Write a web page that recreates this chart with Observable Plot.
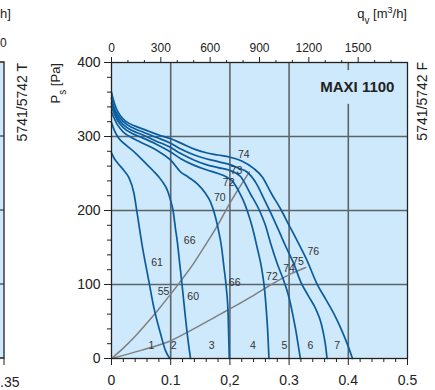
<!DOCTYPE html>
<html><head><meta charset="utf-8">
<script src="https://cdn.jsdelivr.net/npm/d3@7"></script>
<script src="https://cdn.jsdelivr.net/npm/@observablehq/plot@0.6"></script>
<style>
body{margin:0;background:#fff;}
#chart{width:435px;height:390px;overflow:hidden;}
svg{font-family:"Liberation Sans",Arial,sans-serif;}
</style></head><body><div id="chart"></div>
<script>
// ---- axis ticks & labels ----
const bottomTicks = [0, 0.1, 0.2, 0.3, 0.4, 0.5];
const bottomTickLabels = ["0", "0.1", "0,2", "0.3", "0.4", "0.5"];
const bottomMinor = [0.02,0.04,0.06,0.08,0.12,0.14,0.16,0.18,0.22,0.24,0.26,0.28,0.32,0.34,0.36,0.38,0.42,0.44,0.46,0.48];
const leftTicks = [0, 100, 200, 300, 400];
const leftMinor = [20,40,60,80,120,140,160,180,220,240,260,280,320,340,360,380];
const qTicks = [0, 300, 600, 900, 1200, 1500];          // m3/h
const qMinor = [100,200,400,500,700,800,1000,1100,1300,1400,1600,1700];
const gridX = [0.1, 0.2, 0.3, 0.4];
const gridY = [100, 200, 300];

// ---- fan curves (qv m3/s, Ps Pa) ----
const fan1 = [[0,278],[0.005,270],[0.0096,265],[0.021,254],[0.029,245],[0.038,223],[0.043,198],[0.052,152],[0.063,105],[0.0715,69],[0.083,33],[0.091,11],[0.0985,0]];
const fan2 = [[0,319],[0.005,308],[0.012,298],[0.025,288],[0.04,278],[0.055,266],[0.07,254],[0.085,240],[0.095,226],[0.1,213],[0.104,200],[0.108,176],[0.111,159],[0.115,130],[0.119,101],[0.123,70],[0.128,33],[0.1335,0]];
const fan3 = [[0,333],[0.01,316],[0.02,306],[0.035,298],[0.05,292],[0.075,282],[0.1,268],[0.117,252],[0.13,245],[0.145,236],[0.158,224],[0.167,212],[0.175,193],[0.18,176],[0.186,150],[0.19,123],[0.194,95],[0.197,60],[0.198,30],[0.199,0]];
const fan4 = [[0,340],[0.01,322],[0.02,312],[0.035,304],[0.05,299],[0.075,290],[0.1,279],[0.117,270],[0.14,261],[0.16,255],[0.18,250],[0.195,245],[0.206,238],[0.215,226],[0.223,213],[0.23,198],[0.238,177],[0.246,150],[0.254,120],[0.259,90],[0.262,60],[0.264,35],[0.266,0]];
const fan5 = [[0,345],[0.01,326],[0.02,316],[0.035,308],[0.05,303],[0.075,294],[0.1,285],[0.117,277],[0.14,268],[0.16,262],[0.18,258],[0.2,254],[0.218,246],[0.235,222],[0.25,200],[0.26,180],[0.269,155],[0.28,128],[0.291,105],[0.3,82],[0.306,60],[0.312,35],[0.316,15],[0.319,0]];
const fan6 = [[0,352],[0.004,340],[0.01,330],[0.02,320],[0.035,312],[0.05,307],[0.075,299],[0.1,291],[0.117,283],[0.14,275],[0.16,270],[0.18,266],[0.2,262],[0.215,257],[0.229,252],[0.245,236],[0.258,215],[0.27,195],[0.283,172],[0.294,152],[0.307,130],[0.32,103],[0.333,84],[0.345,67],[0.354,48],[0.359,30],[0.362,15],[0.364,0]];
const fan7 = [[0,360],[0.003,350],[0.008,338],[0.015,328],[0.025,320],[0.04,314],[0.06,308],[0.08,302],[0.1,297],[0.12,290],[0.14,283],[0.16,278],[0.18,275],[0.2,272],[0.22,267],[0.24,257],[0.255,245],[0.27,223],[0.285,203],[0.3,180],[0.315,157],[0.33,133],[0.347,101],[0.362,80],[0.376,60],[0.39,36],[0.4,16],[0.407,0]];

// ---- system curves ----
const sysUpper = [[0,0],[0.02,14],[0.04,30],[0.06,48],[0.08,67],[0.1,87],[0.12,108],[0.14,130],[0.16,155],[0.18,181],[0.2,210],[0.22,236],[0.233,252]];
const sysLower = [[0,0],[0.05,11],[0.1,24],[0.134,38],[0.184,60],[0.2,67],[0.235,83],[0.27,100],[0.302,114],[0.328,123]];

// ---- labels ----
const soundUpper = [[0.077,129,"61"],[0.088,91,"55"],[0.132,159,"66"],[0.138,84,"60"],[0.183,217,"70"],[0.198,237,"72"],[0.211,254,"73"],[0.2235,276,"74"]];
const soundLower = [[0.208,103,"66"],[0.271,111,"72"],[0.3,121,"74"],[0.315,131,"75"],[0.341,144,"76"]];
const speedLabels = [[0.0676,"1"],[0.105,"2"],[0.169,"3"],[0.239,"4"],[0.292,"5"],[0.336,"6"],[0.381,"7"]];
const modelName = "MAXI 1100";
const neighbourTexts = ["h]", "0", ".35", "5741/5742 T"];

const bg = "#cde9fb";
const blue = "#0b5c9e";
const gridC = "#5d6469";
const sysC = "#808080";

const fans = [fan1, fan2, fan3, fan4, fan5, fan6, fan7];
const fanRows = fans.flatMap((f, i) => f.map(([x, y]) => ({x, y, k: i})));
const sysRows = [sysUpper, sysLower].flatMap((f, i) => f.map(([x, y]) => ({x, y, k: i})));
const toQ = q => q / 3600;

const chart = Plot.plot({
  width: 435, height: 390,
  marginLeft: 111, marginRight: 28, marginTop: 62, marginBottom: 32,
  x: {domain: [0, 0.5]},
  y: {domain: [0, 400]},
  style: {fontFamily: "Liberation Sans, Arial, sans-serif", fontSize: "14px", color: "#222", background: "transparent", overflow: "visible"},
  marks: [
    Plot.frame({fill: bg, stroke: null}),
    Plot.ruleX(gridX, {stroke: gridC, strokeWidth: 1.6}),
    Plot.ruleY(gridY, {stroke: gridC, strokeWidth: 1.6}),
    Plot.line(sysRows, {x: "x", y: "y", z: "k", stroke: sysC, strokeWidth: 1.5, curve: "monotone-x"}),
    Plot.line(fanRows, {x: "x", y: "y", z: "k", stroke: blue, strokeWidth: 1.7, curve: "monotone-x"}),
    Plot.text(soundUpper, {x: d => d[0], y: d => d[1], text: d => d[2], fontSize: 10.5, fill: "#333"}),
    Plot.text(soundLower, {x: d => d[0], y: d => d[1], text: d => d[2], fontSize: 10.5, fill: "#333"}),
    Plot.text(speedLabels, {x: d => d[0], y: 17.5, text: d => d[1], fontSize: 10.5, fill: "#333"}),
    Plot.text([modelName], {x: 0.478, y: 366, text: d => d, textAnchor: "end", fontWeight: "bold", fontSize: 15, fill: "#222", stroke: bg, strokeWidth: 24}),
    Plot.frame({stroke: "#222", strokeWidth: 1.3}),
    Plot.axisX(bottomTicks, {tickSize: 7, tickPadding: 10, fontSize: 14, label: null, tickFormat: d => bottomTickLabels[bottomTicks.indexOf(d)], stroke: "#222"}),
    Plot.axisX(bottomMinor, {tickSize: 4, label: null, tickFormat: () => "", stroke: "#222"}),
    Plot.axisY(leftTicks, {tickSize: 7, tickPadding: 4, fontSize: 14, label: null, stroke: "#222"}),
    Plot.axisY(leftMinor, {tickSize: 4, label: null, tickFormat: () => "", stroke: "#222"}),
    Plot.axisX(qTicks.map(toQ), {anchor: "top", tickSize: 6, tickPadding: 5, fontSize: 12, label: null, tickFormat: d => String(Math.round(d * 3600)), stroke: "#222"}),
    Plot.axisX(qMinor.map(toQ), {anchor: "top", tickSize: 3, label: null, tickFormat: () => "", stroke: "#222"})
  ]
});
document.getElementById("chart").appendChild(chart);

// ---- titles & neighbouring panel edge ----
const svg = d3.select(chart);
const ys = chart.scale("y");
const ff = "Liberation Sans, Arial, sans-serif";

// y title P_s [Pa]
const pt = svg.append("text").attr("transform", "translate(60,63) rotate(-90)")
  .attr("text-anchor", "end").attr("font-size", 13).attr("fill", "#222").attr("font-family", ff);
pt.append("tspan").text("P");
pt.append("tspan").attr("baseline-shift", "sub").attr("font-size", 10).text("s");
pt.append("tspan").text(" [Pa]");

// x2 title q_v [m3/h]
const qt = svg.append("text").attr("x", 407).attr("y", 18)
  .attr("text-anchor", "end").attr("font-size", 13).attr("fill", "#222").attr("font-family", ff);
qt.append("tspan").text("q");
qt.append("tspan").attr("baseline-shift", "sub").attr("font-size", 10).text("v");
qt.append("tspan").text(" [m");
qt.append("tspan").attr("baseline-shift", "super").attr("font-size", 9).text("3");
qt.append("tspan").text("/h]");

// right code
svg.append("text").attr("transform", "translate(427,62) rotate(-90)")
  .attr("text-anchor", "end").attr("font-size", 14).attr("fill", "#222").attr("font-family", ff)
  .text("5741/5742 F");

// neighbouring panel edge (left)
const yTop = ys.apply(400), yBot = ys.apply(0);
const g = svg.append("g");
g.append("rect").attr("x", 0).attr("y", yTop).attr("width", 4).attr("height", yBot - yTop).attr("fill", bg);
gridY.forEach(v => g.append("line").attr("x1", 0).attr("x2", 4).attr("y1", ys.apply(v)).attr("y2", ys.apply(v)).attr("stroke", gridC).attr("stroke-width", 1.6));
g.append("path").attr("d", `M0,${yTop}H4V${yBot}H0`).attr("fill", "none").attr("stroke", "#222").attr("stroke-width", 1.3);
g.append("line").attr("x1", 4).attr("x2", 4).attr("y1", yBot).attr("y2", yBot + 7).attr("stroke", "#222");
g.append("text").attr("transform", "translate(27,63) rotate(-90)")
  .attr("text-anchor", "end").attr("font-size", 14).attr("fill", "#222").attr("font-family", ff)
  .text(neighbourTexts[3]);
g.append("text").attr("x", 0).attr("y", 47).attr("text-anchor", "start").attr("font-size", 12).attr("fill", "#222").attr("font-family", ff).text(neighbourTexts[1]);
g.append("text").attr("x", 0).attr("y", 18).attr("text-anchor", "start").attr("font-size", 13).attr("fill", "#222").attr("font-family", ff).text(neighbourTexts[0]);
g.append("text").attr("x", 0).attr("y", 387).attr("text-anchor", "start").attr("font-size", 14).attr("fill", "#222").attr("font-family", ff).text(neighbourTexts[2]);
</script></body></html>
